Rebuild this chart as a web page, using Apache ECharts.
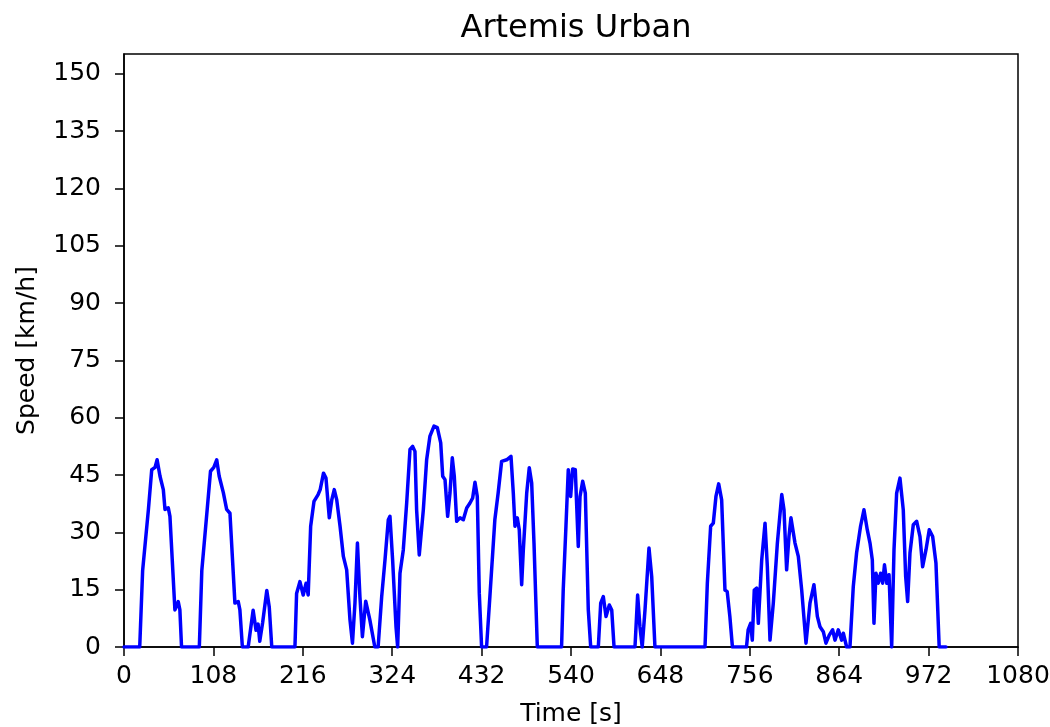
<!DOCTYPE html>
<html>
<head>
<meta charset="utf-8">
<script src="https://cdn.jsdelivr.net/npm/echarts@6/dist/echarts.min.js"></script>
<style>
html,body{margin:0;padding:0;background:#fff;}
#chart{width:1050px;height:727px;}
</style>
</head>
<body>
<div id="chart"></div>
<script>
// Time [s]
const timeS = [
0,19,22.5,29.5,33.5,37.5,40,43.5,47.5,49.5,53.5,55.5,61.5,65.5,67.5,69.5,
91,94,100.5,104.5,108.5,112,115,120,124,128,134,138,140,143,
150,156,159.5,162,164,167.5,172.5,175.5,178.5,
206.5,208.5,212.5,216.5,220,222.5,225.5,229.5,234.5,237,241,244,248,251,254,257,261,265,269,273,276,279,282,285,288,292,297,303,
307,311.3,315.3,319.3,321.3,324.5,328.6,330.6,333.4,337.4,341.5,345.5,348.7,351.5,353.5,356.7,361.6,365.6,369.6,374.5,378.5,382.6,385,387.8,391,393.8,396.6,399,401.9,405.9,409.9,414,418,421.2,424,426.8,429.2,432,438,
442,448,452,456.2,462.3,467.5,470.3,472.3,475.1,477.5,480.4,482.4,486.5,489.6,492.5,495.3,499.3,528.6,
530.6,533.9,536.7,539.6,542,545.2,548.8,550.9,554.1,557.3,560.9,563.8,573,575.9,579,582.3,586.3,589.2,592,617.3,620.5,623.3,626,629.4,634.2,637.5,641.4,701.9,
704.7,708.7,711.9,715.1,718.4,722,726,728.7,731.9,735,752,
754,757,759,761.4,764.3,766.3,770.4,774.4,777.2,780.4,784.4,789.3,794.6,797.3,800.5,803.3,805.7,810.6,814.6,818.7,823.9,828.7,833.5,837.6,840.8,844.8,848,852,856.1,858.9,862.9,867,869,873,877,
881,885,889.8,893.9,897.9,901.2,904,906,908.4,911.2,914.1,916.5,918.7,921.5,924.2,927.4,930.2,933.4,937.4,941.4,944.3,946.7,949.5,953.5,957.6,961.6,964.8,968.8,972.8,976.9,980.9,984.8,993
];
// Speed [km/h]
const speedKmh = [
0,0,20,36,46.4,47,49,44.7,41.2,36,36.4,34.2,9.7,11.9,9.7,0,
0,20,36,46,47,49,44.7,40.4,36,35,11.5,11.9,9.7,0,
0,9.6,4.4,6,1.5,6.4,14.8,10.4,0,
0,14,17.1,13.6,16.7,13.6,31.6,38.1,39.9,41.2,45.5,44.2,33.8,38.5,41.2,38.5,31.6,23.7,20.2,7.1,1,11.5,27.2,13.2,2.7,12,7.1,0,
0,13.2,22.8,33.3,34.2,22.8,5.3,0,19.3,25.4,37.7,51.7,52.5,51.2,35.9,24.1,35.9,49,55.2,57.8,57.4,53.4,44.7,43.8,34.2,40.3,49.5,44.7,32.9,33.8,33.3,36.4,37.7,39,43.1,39.4,14.1,0,0,
13.2,33.3,40.3,48.6,49,49.9,40.3,31.6,33.8,30.7,16.3,25.4,40.3,46.9,42.9,27.2,0,0,
14.9,31.6,46.4,39.4,46.6,46.4,26.3,39.4,43.4,40.3,9.7,0,0,11.5,13.2,8,11,9.7,0,0,13.6,5.3,0,9.7,25.9,18.4,0,0,
16.7,31.6,32.4,39.4,42.7,38.5,14.9,14.5,8,0,0,
4.5,6.2,1.8,14.9,15.4,6.2,22.8,32.4,21,1.8,11.5,27.2,39.9,35.9,20.2,28.9,33.8,27.2,23.7,14.9,1,11.5,16.3,8,5.3,4,1,3.1,4.5,1.8,4.5,1.8,3.6,0,0,
15.8,24.6,31.6,35.9,30.7,27.2,22.8,6.2,19.3,16.7,19.3,16.7,21.5,16.7,18.9,0,25.4,40.3,44.2,35.9,18.4,11.9,24.6,32,32.9,28.9,21,25.4,30.7,28.9,21.9,0,0
];
const xTicks = [0,108,216,324,432,540,648,756,864,972,1080];
const yTicks = [0,15,30,45,60,75,90,105,120,135,150];

const font = 'DejaVu Sans';
const pts = timeS.map((t,i)=>[t, speedKmh[i]]);

const chart = echarts.init(document.getElementById('chart'), null, {renderer:'canvas'});
chart.setOption({
  animation:false,
  backgroundColor:'#ffffff',
  title:{
    text:'Artemis Urban', left:571, top:8, textAlign:'center',
    textStyle:{fontFamily:font, fontSize:32, fontWeight:'normal', color:'#000'}
  },
  grid:{left:124, right:32, top:54, bottom:80, show:true, borderColor:'#000', borderWidth:1.5,
    containLabel:false, outerBoundsMode:'none'},
  xAxis:{
    type:'value', min:0, max:1080, interval:108,
    name:'Time [s]', nameLocation:'middle', nameGap:55,
    nameTextStyle:{fontFamily:font, fontSize:25, color:'#000'},
    axisLine:{show:true, onZero:false, lineStyle:{color:'#000', width:1.5}},
    axisTick:{show:true, inside:false, length:9, lineStyle:{color:'#000', width:1.5}, customValues:xTicks},
    axisLabel:{fontFamily:font, fontSize:25, color:'#000', margin:17, customValues:xTicks,
      formatter:v=>String(v)},
    splitLine:{show:false}
  },
  yAxis:{
    type:'value', min:0, max:155.2, interval:15,
    name:'Speed [km/h]', nameLocation:'middle', nameGap:84,
    nameTextStyle:{fontFamily:font, fontSize:25, color:'#000'},
    axisLine:{show:true, onZero:false, lineStyle:{color:'#000', width:1.5}},
    axisTick:{show:true, inside:false, length:9, lineStyle:{color:'#000', width:1.5}, customValues:yTicks},
    axisLabel:{fontFamily:font, fontSize:25, color:'#000', margin:23, customValues:yTicks,
      formatter:v=> (Math.abs(v/15 - Math.round(v/15))<1e-6 ? String(v) : '')},
    splitLine:{show:false}
  },
  series:[{
    type:'line', data:pts, showSymbol:false, symbol:'none',
    lineStyle:{color:'#0000ff', width:3.5, join:'round', cap:'round'}, clip:true
  }]
});
</script>
</body>
</html>
